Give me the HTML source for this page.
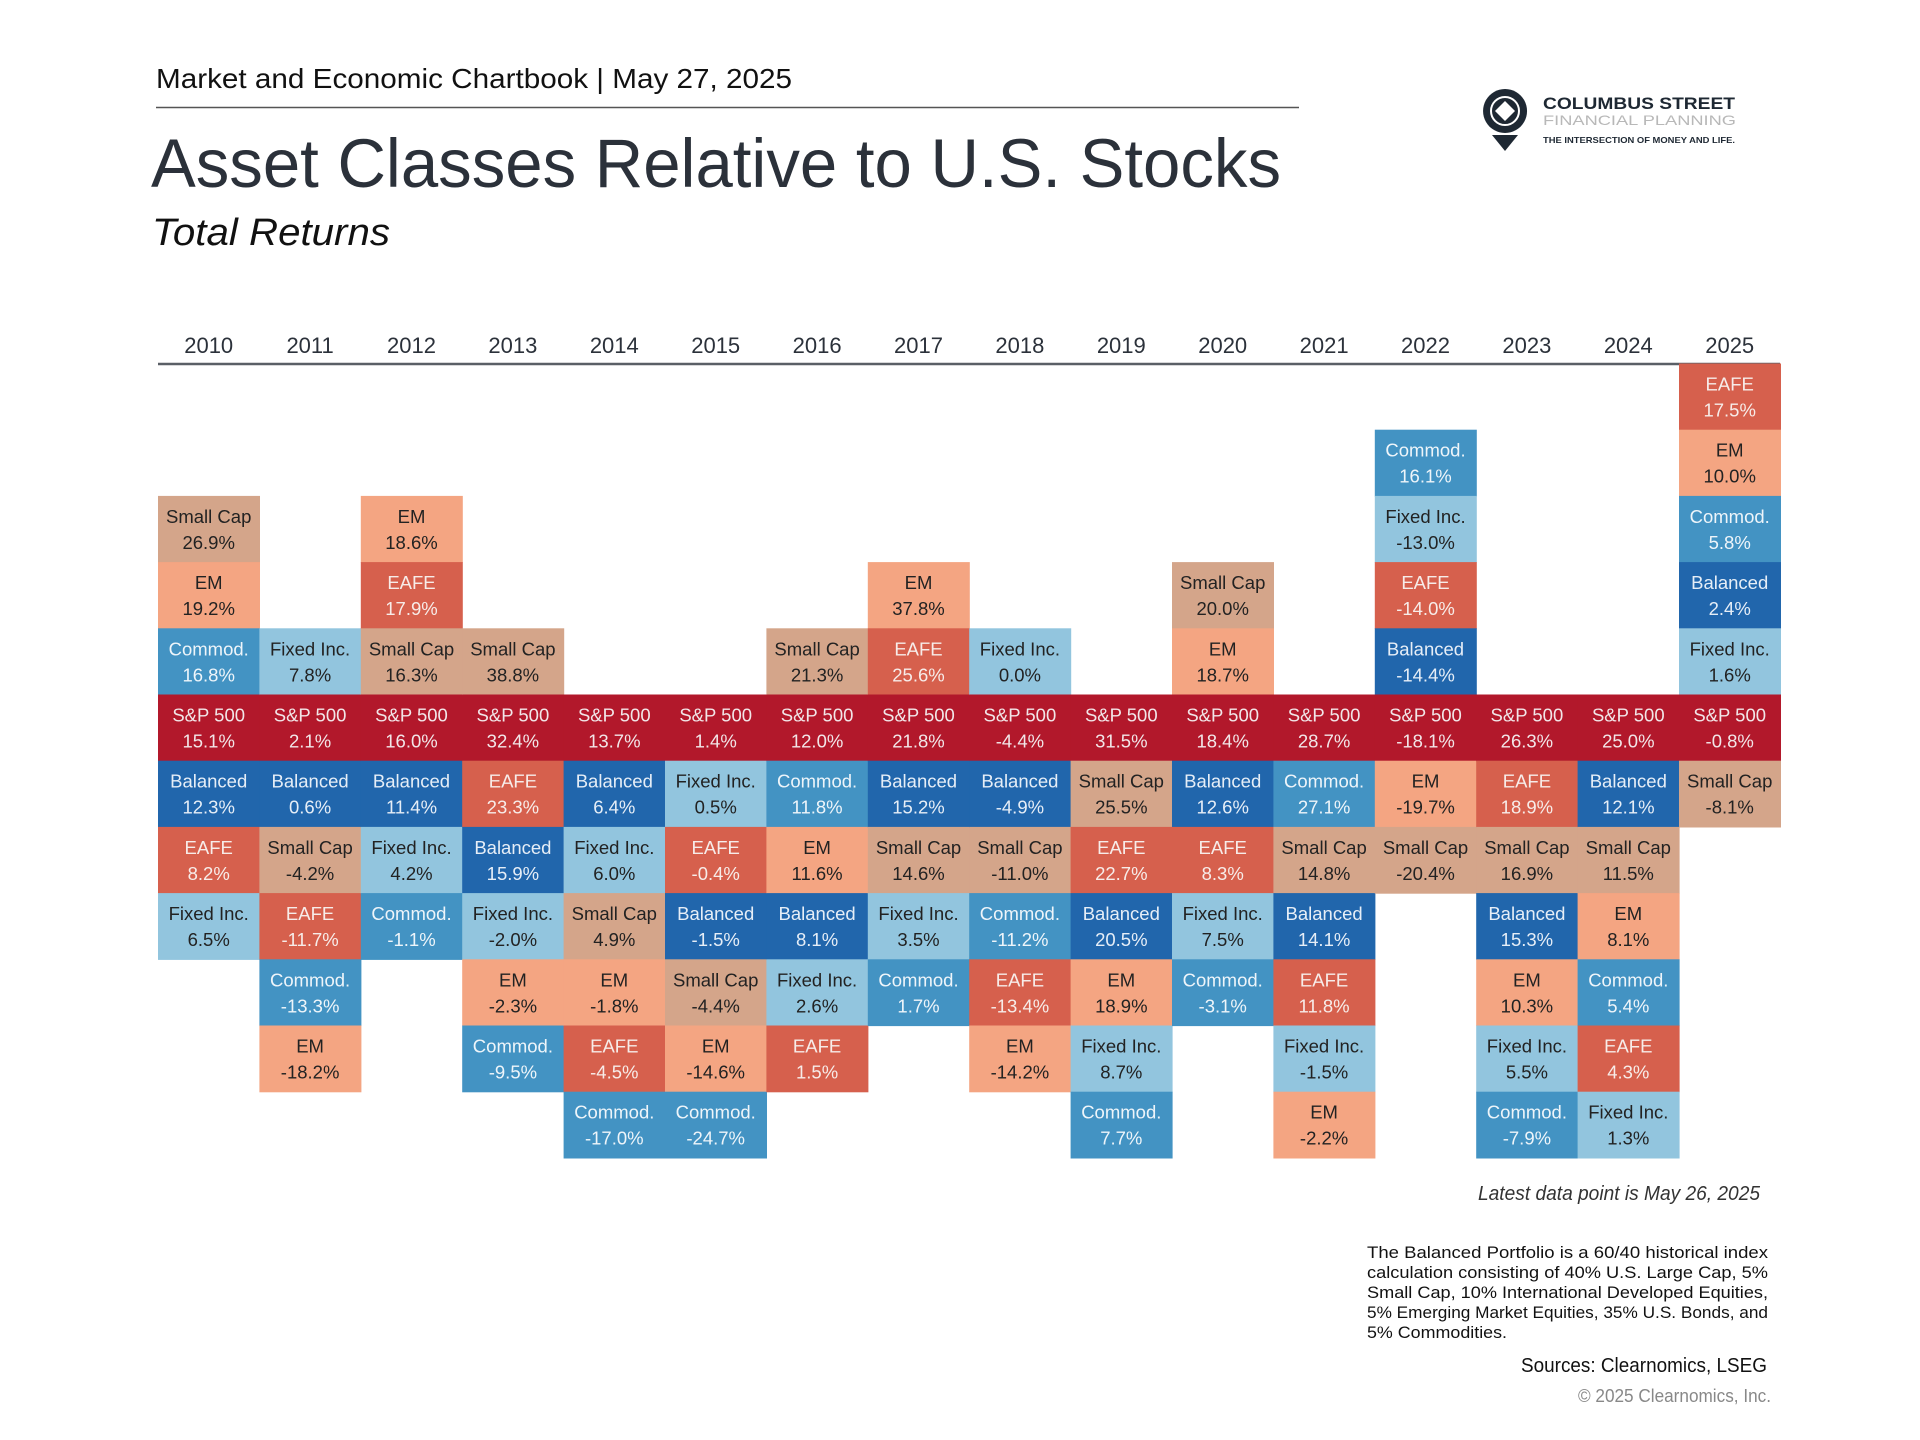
<!DOCTYPE html>
<html><head><meta charset="utf-8"><style>
html,body{margin:0;padding:0;background:#fff;width:1920px;height:1440px;overflow:hidden}
svg{display:block;font-family:"Liberation Sans",sans-serif}
</style></head><body>
<svg id="chart" width="1920" height="1440" viewBox="0 0 1920 1440" xmlns="http://www.w3.org/2000/svg">
<text x="156" y="88" font-size="28" fill="#111" textLength="636" lengthAdjust="spacingAndGlyphs">Market and Economic Chartbook | May 27, 2025</text>
<line x1="156" y1="107.5" x2="1299" y2="107.5" stroke="#555" stroke-width="1.5"/>
<text x="151" y="187" font-size="69" fill="#2b313a" textLength="1130" lengthAdjust="spacingAndGlyphs">Asset Classes Relative to U.S. Stocks</text>
<text x="152" y="245" font-size="38" font-style="italic" fill="#111" textLength="238" lengthAdjust="spacingAndGlyphs">Total Returns</text>
<g>
  <path d="M1505,89 a22,22 0 1 0 0.1,0 z" fill="#1e2833"/>
  <path d="M1492,135 L1505,151 L1518,135 z" fill="#1e2833"/>
  <circle cx="1505" cy="111" r="14" fill="none" stroke="#fff" stroke-width="2"/>
  <path d="M1505,101 L1515,111 L1505,121 L1495,111 z" fill="#fff"/>
  <text x="1543" y="109" font-size="17" font-weight="bold" fill="#1e2833" textLength="192" lengthAdjust="spacingAndGlyphs">COLUMBUS STREET</text>
  <text x="1543" y="125" font-size="14" fill="#b8b8b8" textLength="193" lengthAdjust="spacingAndGlyphs">FINANCIAL PLANNING</text>
  <text x="1543" y="143" font-size="8.5" font-weight="bold" fill="#1e2833" textLength="192" lengthAdjust="spacingAndGlyphs">THE INTERSECTION OF MONEY AND LIFE.</text>
</g>
<g id="years"></g>
<line x1="158" y1="364" x2="1780" y2="364" stroke="#5a5f66" stroke-width="2.5"/>
<g id="cells"></g>
<text x="1760" y="1200" font-size="20" font-style="italic" fill="#333" text-anchor="end" textLength="282" lengthAdjust="spacingAndGlyphs">Latest data point is May 26, 2025</text>
<g font-size="17" fill="#111">
  <text x="1367" y="1258" textLength="401" lengthAdjust="spacingAndGlyphs">The Balanced Portfolio is a 60/40 historical index</text>
  <text x="1367" y="1278" textLength="401" lengthAdjust="spacingAndGlyphs">calculation consisting of 40% U.S. Large Cap, 5%</text>
  <text x="1367" y="1298" textLength="401" lengthAdjust="spacingAndGlyphs">Small Cap, 10% International Developed Equities,</text>
  <text x="1367" y="1318" textLength="401" lengthAdjust="spacingAndGlyphs">5% Emerging Market Equities, 35% U.S. Bonds, and</text>
  <text x="1367" y="1338" textLength="140" lengthAdjust="spacingAndGlyphs">5% Commodities.</text>
</g>
<text x="1767" y="1372" font-size="20" fill="#111" text-anchor="end" textLength="246" lengthAdjust="spacingAndGlyphs">Sources: Clearnomics, LSEG</text>
<text x="1771" y="1402" font-size="18" fill="#888" text-anchor="end" textLength="193" lengthAdjust="spacingAndGlyphs">© 2025 Clearnomics, Inc.</text>
</svg>
<script>
const years = ["2010","2011","2012","2013","2014","2015","2016","2017","2018","2019","2020","2021","2022","2023","2024","2025"];
const spx = [15.1,2.1,16.0,32.4,13.7,1.4,12.0,21.8,-4.4,31.5,18.4,28.7,-18.1,26.3,25.0,-0.8];
const smallCap = [26.9,-4.2,16.3,38.8,4.9,-4.4,21.3,14.6,-11.0,25.5,20.0,14.8,-20.4,16.9,11.5,-8.1];
const em = [19.2,-18.2,18.6,-2.3,-1.8,-14.6,11.6,37.8,-14.2,18.9,18.7,-2.2,-19.7,10.3,8.1,10.0];
const eafe = [8.2,-11.7,17.9,23.3,-4.5,-0.4,1.5,25.6,-13.4,22.7,8.3,11.8,-14.0,18.9,4.3,17.5];
const balanced = [12.3,0.6,11.4,15.9,6.4,-1.5,8.1,15.2,-4.9,20.5,12.6,14.1,-14.4,15.3,12.1,2.4];
const commod = [16.8,-13.3,-1.1,-9.5,-17.0,-24.7,11.8,1.7,-11.2,7.7,-3.1,27.1,16.1,-7.9,5.4,5.8];
const fixedInc = [6.5,7.8,4.2,-2.0,6.0,0.5,2.6,3.5,0.0,8.7,7.5,-1.5,-13.0,5.5,1.3,1.6];
const assetNames = ["S&P 500","Small Cap","EM","EAFE","Balanced","Commod.","Fixed Inc."];
const assetSlugs = ["sp500","small-cap","em","eafe","balanced","commod","fixed-inc"];
const series = [spx,smallCap,em,eafe,balanced,commod,fixedInc];

const fills = ["#b2182b","#d4a58a","#f4a582","#d6604d","#2166ac","#4393c3","#92c5de"];
const textCol = ["#f2e6e8","#222","#222","#f7ece9","#e6eef7","#eef5fa","#222"];
const X0 = 158, COLW = 101.4, Y0 = 363.5, ROWH = 66.2, SPROW = 5;
const xScale = i => X0 + i*COLW;
const yScale = r => Y0 + r*ROWH;
const NS = "http://www.w3.org/2000/svg";
const yG = document.getElementById('years');
const cG = document.getElementById('cells');
function mk(tag, attrs){const e=document.createElementNS(NS,tag);for(const k in attrs)e.setAttribute(k,attrs[k]);return e;}
years.forEach((yr,i)=>{
  const t = mk('text',{x:xScale(i)+COLW/2,y:353,'font-size':22,fill:'#2b313a','text-anchor':'middle'});
  
  
  t.textContent = yr;
  yG.appendChild(t);
});
years.forEach((yr,i)=>{
  const items = series.map((s,k)=>({k, v:s[i]}));
  items.sort((a,b)=> b.v - a.v || (a.k===0?-1:1));
  const spIdx = items.findIndex(d=>d.k===0);
  items.forEach((d,j)=>{
    const row = SPROW - spIdx + j;
    const x = xScale(i), y = yScale(row);
    const g = mk('g',{});
    
    
    g.appendChild(mk('rect',{x:x,y:y,width:COLW+0.6,height:ROWH+0.6,fill:fills[d.k]}));
    const t1 = mk('text',{x:x+COLW/2,y:y+27,'font-size':18.5,fill:textCol[d.k],'text-anchor':'middle'});
    t1.textContent = assetNames[d.k];
    const t2 = mk('text',{x:x+COLW/2,y:y+53,'font-size':18.5,fill:textCol[d.k],'text-anchor':'middle'});
    t2.textContent = d.v.toFixed(1)+'%';
    g.appendChild(t1); g.appendChild(t2);
    cG.appendChild(g);
  });
});
</script>
</body></html>
